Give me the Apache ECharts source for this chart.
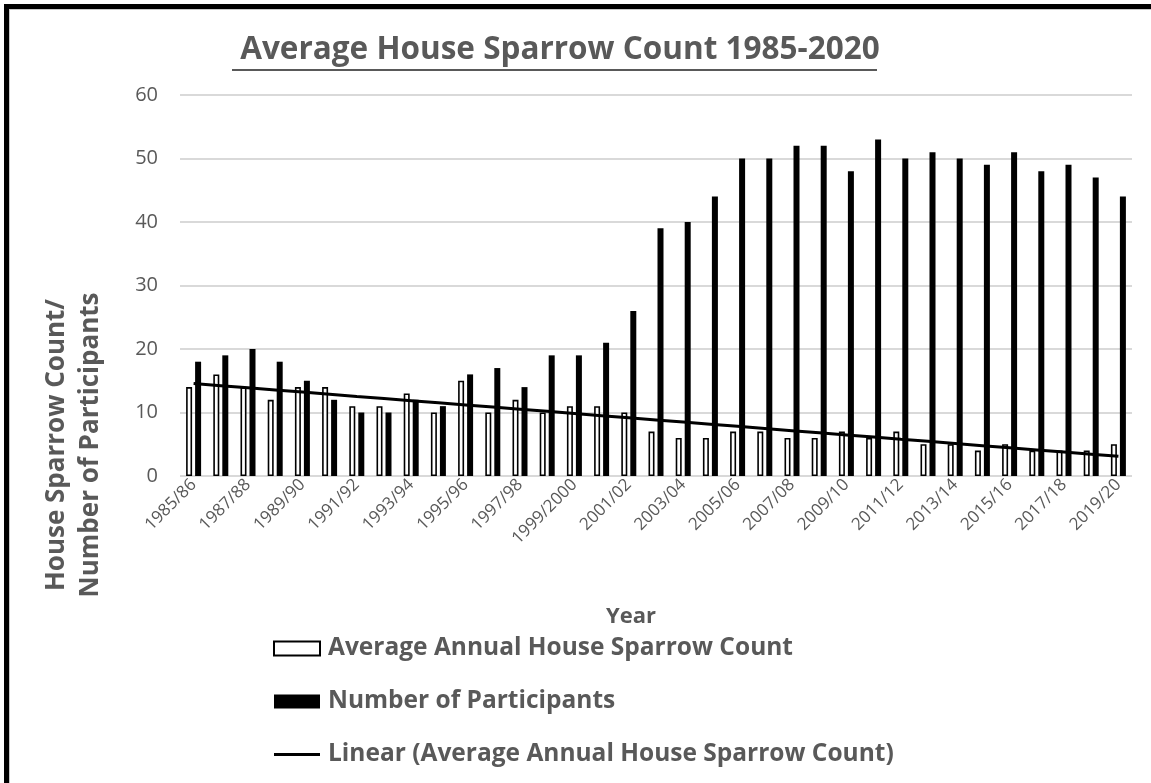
<!DOCTYPE html>
<html>
<head>
<meta charset="utf-8">
<script src="https://cdn.jsdelivr.net/npm/echarts@6/dist/echarts.min.js"></script>
<style>
  html, body { margin: 0; padding: 0; background: #fff; }
  #main { width: 1151px; height: 783px; }
</style>
</head>
<body>
<div id="main"></div>
<script>
// season labels
var years = ['1985/86', '1986/87', '1987/88', '1988/89', '1989/90', '1990/91', '1991/92', '1992/93',
  '1993/94', '1994/95', '1995/96', '1996/97', '1997/98', '1998/99', '1999/2000', '2000/01', '2001/02',
  '2002/03', '2003/04', '2004/05', '2005/06', '2006/07', '2007/08', '2008/09', '2009/10', '2010/11',
  '2011/12', '2012/13', '2013/14', '2014/15', '2015/16', '2016/17', '2017/18', '2018/19', '2019/20'];
// average annual house sparrow count
var sparrowCount = [14, 16, 14, 12, 14, 14, 11, 11, 13, 10, 15, 10, 12, 10, 11, 11, 10,
  7, 6, 6, 7, 7, 6, 6, 7, 6, 7, 5, 5, 4, 5, 4, 4, 4, 5];
// number of participants
var participants = [18, 19, 20, 18, 15, 12, 10, 10, 12, 11, 16, 17, 14, 19, 19, 21, 26,
  39, 40, 44, 50, 50, 52, 52, 48, 53, 50, 51, 50, 49, 51, 48, 49, 47, 44];

// least squares trend of the sparrow count (Excel "Linear" trendline)
function linearFit(vals) {
  var n = vals.length, sx = 0, sy = 0, sxy = 0, sxx = 0;
  for (var i = 0; i < n; i++) {
    var x = i + 1;
    sx += x; sy += vals[i]; sxy += x * vals[i]; sxx += x * x;
  }
  var b = (n * sxy - sx * sy) / (n * sxx - sx * sx);
  var a = (sy - b * sx) / n;
  var out = [];
  for (var j = 0; j < n; j++) out.push(+(a + b * (j + 1)).toFixed(3));
  return out;
}
var trend = linearFit(sparrowCount);

var grey = '#595959';
var font = 'Open Sans';

var myChart = echarts.init(document.getElementById('main'));
var option = {
  backgroundColor: '#fff',
  animation: false,
  textStyle: { fontFamily: font },
  title: {
    text: 'Average House Sparrow Count 1985-2020',
    left: 555,
    top: 29,
    textAlign: 'center',
    textStyle: { color: grey, fontSize: 31.5, fontWeight: 'bold', fontFamily: font }
  },
  grid: { left: 180, right: 19, top: 95, bottom: 307, containLabel: false },
  xAxis: {
    type: 'category',
    data: years,
    axisLine: { show: false },
    axisTick: { show: false },
    axisLabel: {
      interval: 1,
      rotate: 45,
      margin: 6,
      color: grey,
      fontSize: 17,
      fontFamily: font
    }
  },
  yAxis: {
    type: 'value',
    min: 0,
    max: 60,
    interval: 10,
    axisLine: { show: false },
    axisTick: { show: false },
    axisLabel: { color: grey, fontSize: 20, margin: 22, fontFamily: font },
    splitLine: { lineStyle: { color: '#d9d9d9', width: 2 } }
  },
  legend: {
    orient: 'vertical',
    left: 268,
    top: 631,
    itemWidth: 46,
    itemHeight: 14,
    itemGap: 28,
    textStyle: { color: grey, fontSize: 24.5, fontWeight: 'bold', fontFamily: font, padding: [0, 0, 0, 3] },
    data: [
      { name: 'Average Annual House Sparrow Count', icon: 'rect' },
      { name: 'Number of Participants', icon: 'rect' },
      // plain line icon; the zero-width first segment keeps the box 14 tall
      { name: 'Linear (Average Annual House Sparrow Count)', icon: 'path://M0,0L0,14M0,5.5H46V8.5H0Z' }
    ]
  },
  graphic: [
    // outer frame (left and top edges)
    { type: 'rect', shape: { x: 4, y: 4, width: 5, height: 783 }, style: { fill: '#000' } },
    { type: 'rect', shape: { x: 4, y: 4, width: 1151, height: 5 }, style: { fill: '#000' } },
    { type: 'rect', shape: { x: 9, y: 9, width: 1, height: 783 }, style: { fill: '#c8c8c8' } },
    { type: 'rect', shape: { x: 9, y: 9, width: 1151, height: 1 }, style: { fill: '#c8c8c8' } },
    // title underline
    { type: 'rect', shape: { x: 232, y: 69, width: 645, height: 2 }, style: { fill: grey } },
    // axis names
    {
      type: 'text', x: 631, y: 617,
      style: { text: 'Year', fill: grey, font: 'bold 22px "Open Sans"', align: 'center', verticalAlign: 'middle' }
    },
    {
      type: 'text', x: 57, y: 445, rotation: Math.PI / 2,
      style: { text: 'House Sparrow Count/', fill: grey, font: 'bold 26px "Open Sans"', align: 'center', verticalAlign: 'middle' }
    },
    {
      type: 'text', x: 91, y: 445, rotation: Math.PI / 2,
      style: { text: 'Number of Participants', fill: grey, font: 'bold 26px "Open Sans"', align: 'center', verticalAlign: 'middle' }
    }
  ],
  series: [
    {
      name: 'Average Annual House Sparrow Count',
      type: 'bar',
      data: sparrowCount,
      barWidth: 6,
      barGap: '50%',
      itemStyle: { color: '#fff', borderColor: '#000', borderWidth: 1.6 }
    },
    {
      name: 'Number of Participants',
      type: 'bar',
      data: participants,
      barWidth: 6,
      barGap: '50%',
      itemStyle: { color: '#000' }
    },
    {
      name: 'Linear (Average Annual House Sparrow Count)',
      type: 'line',
      data: trend,
      symbol: 'none',
      z: 5,
      lineStyle: { color: '#000', width: 3 },
      itemStyle: { color: '#000' }
    }
  ]
};

// 使用刚指定的配置项和数据显示图表。
myChart.setOption(option);
</script>
</body>
</html>
